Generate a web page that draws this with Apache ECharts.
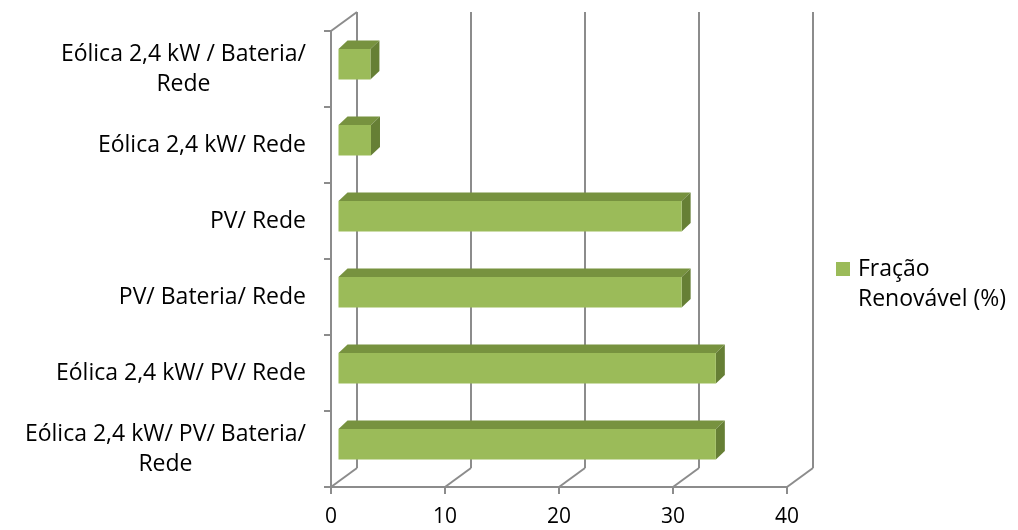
<!DOCTYPE html>
<html>
<head>
<meta charset="utf-8">
<script src="https://cdn.jsdelivr.net/npm/echarts@6/dist/echarts.min.js"></script>
<style>
  html, body { margin: 0; padding: 0; background: #ffffff; }
  #chart { width: 1018px; height: 530px; }
</style>
</head>
<body>
<div id="chart"></div>
<script>
// Categories, listed top to bottom
const categories = [
  'Eólica 2,4 kW / Bateria/\nRede',
  'Eólica 2,4 kW/ Rede',
  'PV/ Rede',
  'PV/ Bateria/ Rede',
  'Eólica 2,4 kW/ PV/ Rede',
  'Eólica 2,4 kW/ PV/ Bateria/\nRede'
];
// Renewable fraction (%) per configuration
const fracaoRenovavel = [2.8, 2.85, 30.1, 30.1, 33.1, 33.1];
// Value axis ticks
const xTicks = [0, 10, 20, 30, 40];
const seriesName = 'Fração\nRenovável (%)';

const FONT = 'Open Sans';
const FS = 23;        // category labels and legend
const FS_TICK = 21;   // value axis numbers
const LINE = '#8c8c8c';
const WALL_DEPTH = [26, -19];   // offset from the front plane to the back wall
const BAR_FRONT = [7.5, -4.7];   // bar front face inset from the front plane
const BAR_DEPTH = [9, -8.5];     // extrusion of each bar box
const FACE = '#9bbb59', TOP = '#77923f', SIDE = '#667f35';

// Back wall gridlines and floor edges, one group per value tick
function renderWall(params, api) {
  const v = api.value(0);
  const cs = params.coordSys;
  const x = api.coord([v, 0])[0];
  const top = cs.y, bottom = cs.y + cs.height;
  const dx = WALL_DEPTH[0], dy = WALL_DEPTH[1];
  const segs = [
    [x + dx, bottom + dy, x + dx, top + dy],
    [x, bottom, x + dx, bottom + dy]
  ];
  if (v === xTicks[0]) segs.push([x, top, x + dx, top + dy]);
  return {
    type: 'group',
    children: segs.map(s => ({
      type: 'line',
      shape: { x1: s[0], y1: s[1], x2: s[2], y2: s[3] },
      style: { stroke: LINE, lineWidth: 2 }
    }))
  };
}

// 3D box for each bar: front, top and right faces
function renderBar(params, api) {
  const v = api.value(0), c = api.value(1);
  const p0 = api.coord([0, c]);
  const p1 = api.coord([v, c]);
  const band = api.size([0, 1])[1];
  const h = band / 2.5;
  const x0 = p0[0] + BAR_FRONT[0], x1 = p1[0] + BAR_FRONT[0];
  const yT = p0[1] + BAR_FRONT[1] - h / 2, yB = yT + h;
  const dx = BAR_DEPTH[0], dy = BAR_DEPTH[1];
  return {
    type: 'group',
    children: [
      { type: 'polygon', shape: { points: [[x0, yT], [x1, yT], [x1 + dx, yT + dy], [x0 + dx, yT + dy]] }, style: { fill: TOP } },
      { type: 'polygon', shape: { points: [[x1, yT], [x1 + dx, yT + dy], [x1 + dx, yB + dy], [x1, yB]] }, style: { fill: SIDE } },
      { type: 'rect', shape: { x: x0, y: yT, width: x1 - x0, height: h }, style: { fill: FACE } }
    ]
  };
}

const chart = echarts.init(document.getElementById('chart'), null, { renderer: 'canvas' });
chart.setOption({
  animation: false,
  backgroundColor: '#ffffff',
  grid: { left: 331, right: 231, top: 31, bottom: 43 },
  legend: {
    data: [{ name: seriesName, icon: 'rect' }],
    left: 831,
    top: 219,
    padding: 5,
    itemWidth: 14,
    itemHeight: 14,
    // blank first line keeps "Fração" level with the swatch
    formatter: name => '\n' + name.split('\n').map(s => '{t|' + s + '}').join('\n'),
    textStyle: {
      fontFamily: FONT, fontSize: FS, color: '#000', lineHeight: 30,
      rich: { t: { fontFamily: FONT, fontSize: FS, color: '#000', lineHeight: 30, padding: [0, 0, 0, 3] } }
    }
  },
  xAxis: {
    type: 'value',
    min: 0,
    max: 40,
    interval: 10,
    axisLine: { show: true, lineStyle: { color: LINE, width: 2 } },
    axisTick: { show: true, length: 7, lineStyle: { color: LINE, width: 2 } },
    axisLabel: { fontFamily: FONT, fontSize: FS_TICK, color: '#000', margin: 20 },
    splitLine: { show: false }
  },
  yAxis: {
    type: 'category',
    data: categories,
    inverse: true,
    axisLine: { show: true, lineStyle: { color: LINE, width: 2 } },
    axisTick: { show: true, length: 7, interval: 0, lineStyle: { color: LINE, width: 2 } },
    axisLabel: {
      interval: 0,
      margin: 25,
      formatter: val => val.split('\n').map(s => '{c|' + s + '}').join('\n'),
      rich: { c: { align: 'center', fontFamily: FONT, fontSize: FS, color: '#000', lineHeight: 30 } }
    },
    splitLine: { show: false }
  },
  series: [
    {
      type: 'custom',
      name: 'wall',
      silent: true,
      clip: false,
      z: 1,
      renderItem: renderWall,
      data: xTicks.map(v => [v, 0])
    },
    {
      type: 'custom',
      name: seriesName,
      clip: false,
      z: 2,
      itemStyle: { color: FACE },
      encode: { x: 0, y: 1 },
      renderItem: renderBar,
      data: fracaoRenovavel.map((v, i) => [v, i])
    }
  ]
});
</script>
</body>
</html>
